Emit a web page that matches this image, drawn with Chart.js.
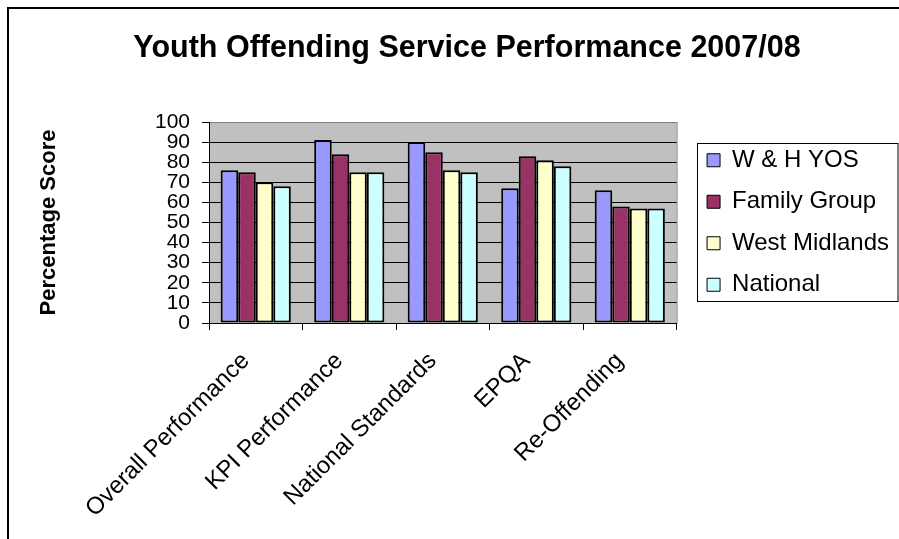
<!DOCTYPE html>
<html>
<head>
<meta charset="utf-8">
<title>Youth Offending Service Performance 2007/08</title>
<script src="https://cdn.jsdelivr.net/npm/chart.js@4/dist/chart.umd.min.js"></script>
<style>
  body { margin: 0; background: #fff; }
  #wrap { position: relative; width: 899px; height: 539px; overflow: hidden; }
  #frame { position: absolute; left: 7px; top: 7px; width: 900px; height: 540px;
           border-left: 2px solid #000; border-top: 2px solid #000; pointer-events: none; }
  canvas { position: absolute; left: 0; top: 0; }
</style>
</head>
<body>
<div id="wrap">
  <canvas id="myChart" width="899" height="539"></canvas>
  <div id="frame"></div>
</div>
<script>
'use strict';

let categories = ['Overall Performance', 'KPI Performance', 'National Standards', 'EPQA', 'Re-Offending'];
let whYos = [76, 91, 90, 67, 66];
let familyGroup = [75, 84, 85, 83, 58];
let westMidlands = [70, 75, 76, 81, 57];
let national = [68, 75, 75, 78, 57];
let yTicks = [0, 10, 20, 30, 40, 50, 60, 70, 80, 90, 100];

let fontFamily = '"Liberation Sans", Arial, sans-serif';

// grey plot area behind the bars
let plotBackground = {
  id: 'plotBackground',
  beforeDraw(chart) {
    let a = chart.chartArea;
    let ctx = chart.ctx;
    ctx.save();
    ctx.fillStyle = '#c0c0c0';
    ctx.fillRect(a.left, a.top, a.right - a.left, a.bottom - a.top);
    ctx.strokeStyle = '#808080';
    ctx.lineWidth = 1;
    ctx.strokeRect(Math.round(a.left) + 0.5, Math.round(a.top) + 0.5, a.right - a.left, a.bottom - a.top);
    ctx.restore();
  }
};

// small gap between plot area and legend, like the excel layout
let legendGap = {
  id: 'legendGap',
  beforeInit(chart) {
    Chart.layouts.addBox(chart, {
      position: 'right',
      weight: 1,
      fullSize: false,
      options: { display: false },
      isHorizontal() { return false; },
      update(maxWidth, maxHeight) {
        this.width = 13;
        this.height = maxHeight;
      },
      draw() {}
    });
  }
};

// border around legend
let legendBorder = {
  id: 'legendBorder',
  afterDraw(chart) {
    let boxes = chart.legend && chart.legend.legendHitBoxes;
    if (!boxes || !boxes.length) return;
    let first = boxes[0];
    let last = boxes[boxes.length - 1];
    let left = Math.round(first.left - 10) + 0.5;
    let top = Math.round(first.top - 5) + 0.5;
    let bottom = Math.round(last.top + last.height + 4) + 0.5;
    let ctx = chart.ctx;
    ctx.save();
    ctx.strokeStyle = '#000';
    ctx.lineWidth = 1;
    ctx.strokeRect(left, top, 898 - left, bottom - top);
    ctx.restore();
  }
};

function makeDataset(label, data, color) {
  return {
    label: label,
    data: data,
    backgroundColor: color,
    borderColor: '#000',
    borderWidth: 2,
    borderSkipped: false
  };
}

let chartStuff = {
  type: 'bar',
  data: {
    labels: categories,
    datasets: [
      makeDataset('W & H YOS', whYos, '#9999ff'),
      makeDataset('Family Group', familyGroup, '#993366'),
      makeDataset('West Midlands', westMidlands, '#ffffcc'),
      makeDataset('National', national, '#ccffff')
    ]
  },
  options: {
    responsive: false,
    animation: false,
    devicePixelRatio: 1,
    layout: { padding: { left: 35, right: 0, top: 0, bottom: 0 } },
    datasets: {
      bar: { categoryPercentage: 0.75, barPercentage: 1 }
    },
    plugins: {
      title: {
        display: true,
        text: 'Youth Offending Service Performance 2007/08',
        color: '#000',
        font: { family: fontFamily, size: 30.5, weight: 'bold' },
        padding: { top: 30, bottom: 55.4 }
      },
      legend: {
        position: 'right',
        fullSize: false,
        labels: {
          color: '#000',
          font: { family: fontFamily, size: 24 },
          boxWidth: 13,
          boxHeight: 13,
          padding: 17.5,
          generateLabels(chart) {
            let items = Chart.defaults.plugins.legend.labels.generateLabels(chart);
            items.forEach(function (item) { item.lineWidth = 1; });
            return items;
          }
        }
      },
      tooltip: { enabled: false }
    },
    scales: {
      x: {
        grid: {
          display: true,
          drawOnChartArea: false,
          drawTicks: true,
          tickLength: 7,
          color: '#000'
        },
        border: { color: '#000', width: 1 },
        ticks: {
          color: '#000',
          font: { family: fontFamily, size: 24 },
          minRotation: 45,
          maxRotation: 45,
          autoSkip: false,
          padding: 17,
          labelOffset: -10
        },
        afterFit(scale) { scale.height = 216; }
      },
      y: {
        min: 0,
        max: 100,
        afterBuildTicks(scale) {
          scale.ticks = yTicks.map(function (v) { return { value: v }; });
        },
        grid: {
          color(ctx) { return ctx.tick && ctx.tick.value === 100 ? '#808080' : '#000'; },
          tickColor: '#000',
          tickLength: 7,
          lineWidth: 1
        },
        border: { color: '#000', width: 1 },
        ticks: {
          color: '#000',
          font: { family: fontFamily, size: 21 },
          padding: 12,
          autoSkip: false
        },
        title: {
          display: true,
          text: 'Percentage Score',
          color: '#000',
          font: { family: fontFamily, size: 22, weight: 'bold' },
          padding: { top: 1, bottom: 0 }
        },
        afterFit(scale) { scale.width = 174; }
      }
    }
  },
  plugins: [plotBackground, legendGap, legendBorder]
};

const ctx = document.getElementById('myChart').getContext('2d');
new Chart(ctx, chartStuff);
</script>
</body>
</html>
